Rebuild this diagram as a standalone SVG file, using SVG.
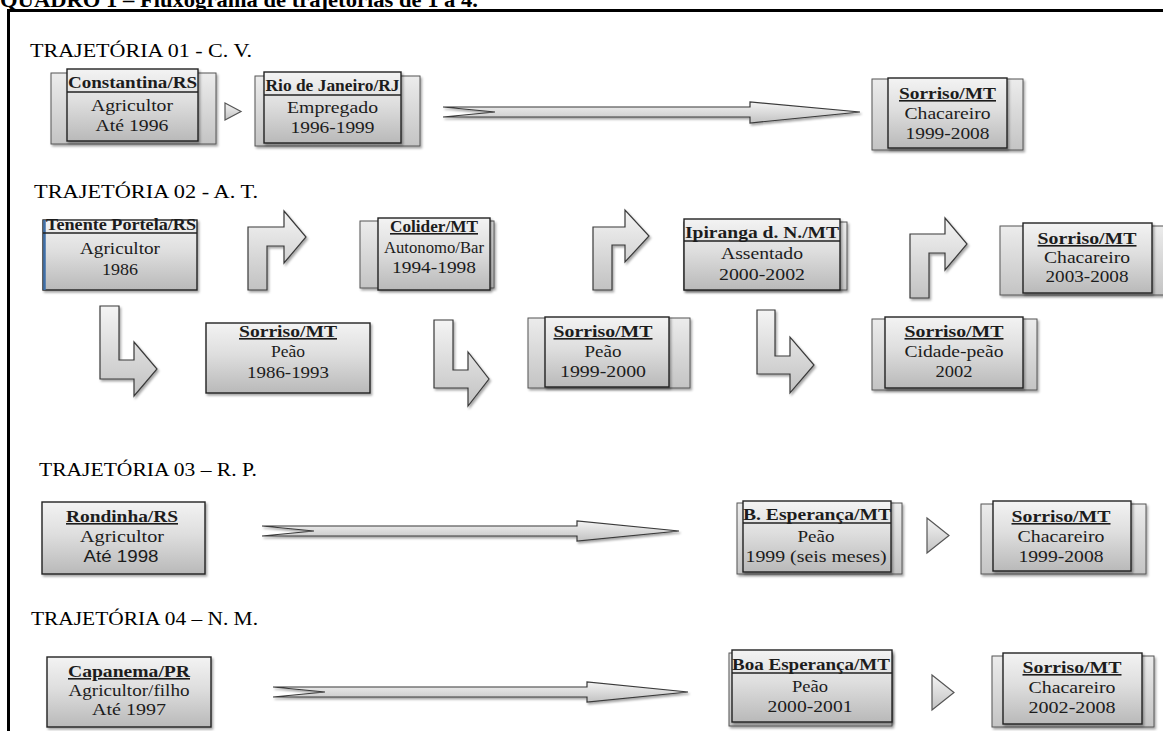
<svg xmlns="http://www.w3.org/2000/svg" width="1163" height="731" viewBox="0 0 1163 731">
  <style>
    .title { font-family: "Liberation Serif", serif; font-weight: bold; font-size: 21px; fill: #000; }
    .lbl { font-family: "Liberation Serif", serif; font-size: 18px; fill: #000; }
    .t { font-family: "Liberation Serif", serif; font-size: 16px; fill: #1c1c1c; text-anchor: middle; }
    .s { font-family: "Liberation Sans", sans-serif; }
    .h { font-weight: bold; }
    .u { text-decoration: underline; }
    .flap { fill: url(#gFlap); stroke: #555; stroke-width: 1; filter: url(#shadow); }
    .box { fill: url(#gBox); stroke: #222; stroke-width: 1.4; filter: url(#shadow); }
    .div { stroke: #222; stroke-width: 1.3; }
    .arw { fill: url(#gArrow); stroke: #3a3a3a; stroke-width: 1.2; stroke-linejoin: miter; filter: url(#shadow); }
    .tri { fill: url(#gArrow); stroke: #555; stroke-width: 1.2; }
    .frame { stroke: #000; stroke-width: 3; fill: none; }
  </style>
  <defs>
    <linearGradient id="gBox" x1="0" y1="0" x2="0" y2="1">
      <stop offset="0" stop-color="#f3f3f3"/>
      <stop offset="0.45" stop-color="#dedede"/>
      <stop offset="1" stop-color="#b9b9b9"/>
    </linearGradient>
    <linearGradient id="gFlap" x1="0" y1="0" x2="0" y2="1">
      <stop offset="0" stop-color="#ececec"/>
      <stop offset="1" stop-color="#c4c4c4"/>
    </linearGradient>
    <linearGradient id="gArrow" x1="0" y1="0" x2="0" y2="1">
      <stop offset="0" stop-color="#f4f4f4"/>
      <stop offset="1" stop-color="#c2c2c2"/>
    </linearGradient>
    <filter id="shadow" x="-10%" y="-10%" width="130%" height="140%">
      <feDropShadow dx="1.5" dy="2" stdDeviation="1.2" flood-color="#000" flood-opacity="0.35"/>
    </filter>
  </defs>

  <rect width="1163" height="731" fill="#fff"/>

  <!-- caption, cut by the top of the page -->
  <text class="title" x="0" y="7" textLength="478" lengthAdjust="spacingAndGlyphs">QUADRO 1 – Fluxograma de trajetórias de 1 a 4.</text>

  <!-- frame -->
  <path class="frame" d="M8.5,731 V10.5 H1163"/>

  <!-- section labels -->
  <g id="labels">
    <text class="lbl" x="30" y="57" textLength="222" lengthAdjust="spacingAndGlyphs">TRAJETÓRIA 01 - C. V.</text>
    <text class="lbl" x="34" y="198" textLength="224" lengthAdjust="spacingAndGlyphs">TRAJETÓRIA 02 - A. T.</text>
    <text class="lbl" x="39" y="476" textLength="218" lengthAdjust="spacingAndGlyphs">TRAJETÓRIA 03 – R. P.</text>
    <text class="lbl" x="31" y="625" textLength="227" lengthAdjust="spacingAndGlyphs">TRAJETÓRIA 04 – N. M.</text>
  </g>

  <!-- connectors -->
  <g id="connectors">
    <!-- trajectory 01 -->
    <path class="tri" d="M225,103 L241,111.5 L225,120 Z"/>
    <path class="arw" d="M443,107 H750 V102 L860,112 L750,123 V117 H443 L495,112 Z"/>
    <!-- trajectory 02: turning arrows -->
    <path class="arw" d="M248,290 V227 H284 V211 L306,237 L284,263 V246 H267 V290 Z"/>
    <path class="arw" d="M593,290 V227 H625 V210 L649,236 L625,262 V245 H612 V290 Z"/>
    <path class="arw" d="M910,298 V234 H945 V218 L967,244 L945,270 V253 H929 V298 Z"/>
    <path class="arw" d="M100,306 V379 H134 V396 L157,369 L134,342 V360 H119 V306 Z"/>
    <path class="arw" d="M434,320 V388 H468 V406 L489,379 L468,352 V370 H453 V320 Z"/>
    <path class="arw" d="M757,310 V374 H790 V393 L814,365 L790,337 V356 H775 V310 Z"/>
    <!-- trajectory 03 -->
    <path class="arw" d="M262,526 H577 V521 L679,531 L577,541 V536 H262 L314,531 Z"/>
    <path class="tri" d="M927,518 L949,535.5 L927,553 Z"/>
    <!-- trajectory 04 -->
    <path class="arw" d="M273,687 H587 V682 L688,692 L587,702 V697 H273 L325,692 Z"/>
    <path class="tri" d="M932,675 L954,692.5 L932,710 Z"/>
  </g>

  <!-- trajectory 01 -->
  <g id="n-constantina">
    <rect class="flap" x="51" y="73" width="165" height="71"/>
    <rect class="box" x="67" y="69" width="131" height="72"/>
    <line class="div" x1="67" y1="92" x2="198" y2="92"/>
    <text class="t h" x="132.5" y="88" textLength="129" lengthAdjust="spacingAndGlyphs">Constantina/RS</text>
    <text class="t" x="132" y="111" textLength="82" lengthAdjust="spacingAndGlyphs">Agricultor</text>
    <text class="t" x="132" y="131" textLength="73" lengthAdjust="spacingAndGlyphs">Até 1996</text>
  </g>
  <g id="n-rio">
    <rect class="flap" x="255" y="76" width="165" height="70"/>
    <rect class="box" x="264" y="72" width="137" height="71"/>
    <line class="div" x1="264" y1="95" x2="401" y2="95"/>
    <text class="t h" x="332.5" y="91" font-size="14" textLength="134" lengthAdjust="spacingAndGlyphs">Rio de Janeiro/RJ</text>
    <text class="t" x="332.5" y="113" textLength="91" lengthAdjust="spacingAndGlyphs">Empregado</text>
    <text class="t" x="332.5" y="133" textLength="84" lengthAdjust="spacingAndGlyphs">1996-1999</text>
  </g>
  <g id="n-sorriso-01">
    <rect class="flap" x="872" y="79" width="151" height="71"/>
    <rect class="box" x="888" y="78" width="119" height="70"/>
    <text class="t h u" x="947.5" y="99" textLength="97" lengthAdjust="spacingAndGlyphs">Sorriso/MT</text>
    <text class="t" x="947.5" y="119" textLength="86" lengthAdjust="spacingAndGlyphs">Chacareiro</text>
    <text class="t" x="947.5" y="139" textLength="84" lengthAdjust="spacingAndGlyphs">1999-2008</text>
  </g>

  <!-- trajectory 02 -->
  <g id="n-tenente-portela">
    <rect class="box" x="43" y="220" width="154" height="70"/>
    <line x1="44.5" y1="220" x2="44.5" y2="290" stroke="#3f6fa8" stroke-width="2.5"/>
    <line class="div" x1="43" y1="233" x2="197" y2="233"/>
    <text class="t h" x="121" y="230" textLength="150" lengthAdjust="spacingAndGlyphs">Tenente Portela/RS</text>
    <text class="t" x="120" y="254" textLength="80" lengthAdjust="spacingAndGlyphs">Agricultor</text>
    <text class="t" x="120" y="275" textLength="36" lengthAdjust="spacingAndGlyphs">1986</text>
  </g>
  <g id="n-colider">
    <rect class="flap" x="360" y="221" width="134" height="67"/>
    <rect class="box" x="378" y="218" width="112" height="72"/>
    <text class="t h u" x="434" y="232" textLength="88" lengthAdjust="spacingAndGlyphs">Colider/MT</text>
    <text class="t" x="434" y="253" textLength="100" lengthAdjust="spacingAndGlyphs">Autonomo/Bar</text>
    <text class="t" x="434" y="273" textLength="84" lengthAdjust="spacingAndGlyphs">1994-1998</text>
  </g>
  <g id="n-ipiranga">
    <rect class="flap" x="684" y="222" width="163" height="68"/>
    <rect class="box" x="684" y="219" width="156" height="71"/>
    <line class="div" x1="684" y1="241" x2="840" y2="241"/>
    <text class="t h" x="762" y="238" textLength="154" lengthAdjust="spacingAndGlyphs">Ipiranga d. N./MT</text>
    <text class="t" x="762" y="259" textLength="82" lengthAdjust="spacingAndGlyphs">Assentado</text>
    <text class="t" x="762" y="280" textLength="86" lengthAdjust="spacingAndGlyphs">2000-2002</text>
  </g>
  <g id="n-sorriso-chacareiro-02">
    <rect class="flap" x="1000" y="226" width="170" height="69"/>
    <rect class="box" x="1023" y="223" width="129" height="70"/>
    <text class="t h u" x="1087" y="244" textLength="99" lengthAdjust="spacingAndGlyphs">Sorriso/MT</text>
    <text class="t" x="1087" y="263" textLength="86" lengthAdjust="spacingAndGlyphs">Chacareiro</text>
    <text class="t" x="1087" y="282" textLength="83" lengthAdjust="spacingAndGlyphs">2003-2008</text>
  </g>
  <g id="n-sorriso-peao-1986">
    <rect class="box" x="206" y="323" width="164" height="70"/>
    <text class="t h u" x="288" y="337" textLength="98" lengthAdjust="spacingAndGlyphs">Sorriso/MT</text>
    <text class="t" x="288" y="357" textLength="34" lengthAdjust="spacingAndGlyphs">Peão</text>
    <text class="t" x="288" y="378" textLength="82" lengthAdjust="spacingAndGlyphs">1986-1993</text>
  </g>
  <g id="n-sorriso-peao-1999">
    <rect class="flap" x="528" y="318" width="162" height="70"/>
    <rect class="box" x="545" y="317" width="124" height="70"/>
    <text class="t h u" x="603" y="337" textLength="99" lengthAdjust="spacingAndGlyphs">Sorriso/MT</text>
    <text class="t" x="603" y="357" textLength="37" lengthAdjust="spacingAndGlyphs">Peão</text>
    <text class="t" x="603" y="377" textLength="86" lengthAdjust="spacingAndGlyphs">1999-2000</text>
  </g>
  <g id="n-sorriso-cidade">
    <rect class="flap" x="872" y="319" width="165" height="71"/>
    <rect class="box" x="885" y="317" width="138" height="71"/>
    <text class="t h u" x="954" y="337" textLength="99" lengthAdjust="spacingAndGlyphs">Sorriso/MT</text>
    <text class="t" x="954" y="357" textLength="99" lengthAdjust="spacingAndGlyphs">Cidade-peão</text>
    <text class="t" x="954" y="377" textLength="37" lengthAdjust="spacingAndGlyphs">2002</text>
  </g>

  <!-- trajectory 03 -->
  <g id="n-rondinha">
    <rect class="box" x="42" y="502" width="163" height="72"/>
    <text class="t h u" x="122" y="522" textLength="112" lengthAdjust="spacingAndGlyphs">Rondinha/RS</text>
    <text class="t" x="122" y="542" textLength="84" lengthAdjust="spacingAndGlyphs">Agricultor</text>
    <text class="t s" x="121" y="562" textLength="75" lengthAdjust="spacingAndGlyphs">Até 1998</text>
  </g>
  <g id="n-b-esperanca">
    <rect class="flap" x="737" y="503" width="165" height="71"/>
    <rect class="box" x="743" y="501" width="148" height="71"/>
    <line class="div" x1="743" y1="523" x2="891" y2="523"/>
    <text class="t h" x="817" y="520" textLength="148" lengthAdjust="spacingAndGlyphs">B. Esperança/MT</text>
    <text class="t" x="816" y="542" textLength="37" lengthAdjust="spacingAndGlyphs">Peão</text>
    <text class="t" x="816" y="562" textLength="141" lengthAdjust="spacingAndGlyphs">1999 (seis meses)</text>
  </g>
  <g id="n-sorriso-chacareiro-03">
    <rect class="flap" x="981" y="504" width="165" height="70"/>
    <rect class="box" x="993" y="501" width="138" height="70"/>
    <text class="t h u" x="1061" y="522" textLength="99" lengthAdjust="spacingAndGlyphs">Sorriso/MT</text>
    <text class="t" x="1061" y="542" textLength="87" lengthAdjust="spacingAndGlyphs">Chacareiro</text>
    <text class="t" x="1061" y="562" textLength="85" lengthAdjust="spacingAndGlyphs">1999-2008</text>
  </g>

  <!-- trajectory 04 -->
  <g id="n-capanema">
    <rect class="box" x="47" y="657" width="164" height="70"/>
    <text class="t h u" x="129" y="677" textLength="122" lengthAdjust="spacingAndGlyphs">Capanema/PR</text>
    <text class="t" x="129" y="696" textLength="121" lengthAdjust="spacingAndGlyphs">Agricultor/filho</text>
    <text class="t" x="129" y="715" textLength="74" lengthAdjust="spacingAndGlyphs">Até 1997</text>
  </g>
  <g id="n-boa-esperanca">
    <rect class="flap" x="729" y="653" width="163" height="73"/>
    <rect class="box" x="732" y="650" width="160" height="72"/>
    <line class="div" x1="732" y1="673" x2="892" y2="673"/>
    <text class="t h" x="811" y="670" textLength="158" lengthAdjust="spacingAndGlyphs">Boa Esperança/MT</text>
    <text class="t" x="810" y="692" textLength="36" lengthAdjust="spacingAndGlyphs">Peão</text>
    <text class="t" x="810" y="712" textLength="85" lengthAdjust="spacingAndGlyphs">2000-2001</text>
  </g>
  <g id="n-sorriso-chacareiro-04">
    <rect class="flap" x="992" y="656" width="162" height="71"/>
    <rect class="box" x="1003" y="653" width="139" height="71"/>
    <text class="t h u" x="1072" y="673" textLength="99" lengthAdjust="spacingAndGlyphs">Sorriso/MT</text>
    <text class="t" x="1072" y="693" textLength="87" lengthAdjust="spacingAndGlyphs">Chacareiro</text>
    <text class="t" x="1072" y="713" textLength="87" lengthAdjust="spacingAndGlyphs">2002-2008</text>
  </g>
</svg>
